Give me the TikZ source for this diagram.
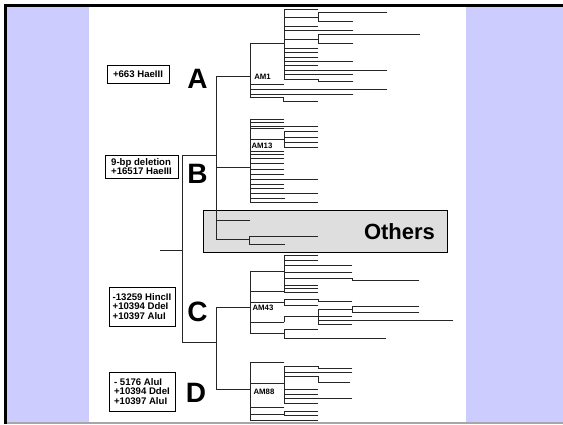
\documentclass[tikz,border=0pt]{standalone}
\usepackage{fontspec}
\setmainfont{Liberation Sans}
\definecolor{lav}{RGB}{204,204,255}
\definecolor{othersfill}{RGB}{222,222,222}
% vertical stem of a clade: x, top, bottom
\newcommand{\stem}[3]{\draw[tree] (#1,#2) -- (#1,#3);}
% plain leaves hanging off a stem at x: list of y/end-x
\newcommand{\twigs}[2]{\foreach \yy/\ee in {#2} \draw[tree] (#1,\yy) -- (\ee,\yy);}
\begin{document}
\begin{tikzpicture}[x=1pt,y=-1pt,
  tree/.style={line width=0.9pt, black!85, line cap=rect},
  sitebox/.style={draw, line width=0.7pt, align=left, inner sep=1.5pt,
    font=\bfseries\fontsize{9.6}{9.7}\selectfont},
  cladeletter/.style={anchor=base, inner sep=0pt, font=\bfseries\fontsize{28}{28}\selectfont},
  amlabel/.style={anchor=base, inner sep=0pt, font=\bfseries\fontsize{7.8}{8}\selectfont}]
\useasboundingbox (0,0) rectangle (563,424);

% page: white panel between lavender margins, frame on top/left
\fill[white] (0,0) rectangle (563,424);
\fill[lav] (7,7) rectangle (89,424);
\fill[lav] (466,7) rectangle (563,424);
\fill[black] (4,4) rectangle (563,7);
\fill[black] (4,4) rectangle (7,424);
\fill[gray!70] (7,422) rectangle (563,424);

% shaded group of remaining lineages
\node[draw, line width=0.8pt, fill=othersfill, minimum width=244pt, minimum height=42pt,
  inner sep=0pt] (others) at (325,231) {};
\node[anchor=base, inner sep=0pt, font=\bfseries\fontsize{22}{22}\selectfont] (otherslbl) at (399.5,239) {Others};

% restriction-site boxes
\node[sitebox, minimum width=62pt, minimum height=18pt] (sA) at (138,74) {+663 HaeIII};
\node[sitebox, minimum width=73pt, minimum height=23pt] (sB) at (141.5,166.5) {9-bp deletion\\+16517 HaeIII};
\node[sitebox, minimum width=66pt, minimum height=39pt] (sC) at (142,306.5) {-13259 HincII\\+10394 DdeI\\+10397 AluI};
\node[sitebox, minimum width=66pt, minimum height=39pt] (sD) at (142,391.5) {- 5176 AluI\\+10394 DdeI\\+10397 AluI};

% haplogroup letters
\node[cladeletter] (lA) at (197.5,88) {A};
\node[cladeletter] (lB) at (197.5,183) {B};
\node[cladeletter] (lC) at (197.5,321) {C};
\node[cladeletter] (lD) at (196,402) {D};

% backbone
\coordinate (root) at (160,250);
\coordinate (rootstem) at (182,250);
\coordinate (upper) at (216,155);
\coordinate (lower) at (216,342);
\draw[tree] (root) -- (rootstem);
\stem{182}{155}{342}
\draw[tree] (182,155) -- (upper);
\draw[tree] (182,342) -- (lower);

% upper group: A, B and the others
\stem{216}{76}{239}
\draw[tree] (216,76) -- (250,76);
\draw[tree] (216,167) -- (250,167);
\draw[tree] (216,220) -- (250,220);
\draw[tree] (216,239) -- (249,239);
\stem{249}{236}{244}
\twigs{249}{236/318, 244/285}

% ---- haplogroup A
\stem{250}{43}{98}
\draw[tree] (250,43) -- (284,43);
\twigs{250}{84/284, 89/387, 94/353}
\draw[tree] (250,97) -| (283,101) -- (318,101);
\node[amlabel] (am1) at (262.5,79) {AM1};
\stem{284}{9}{79}
\twigs{284}{9/318, 26/318, 30/353, 48/318, 52/318, 57/318, 61/353, 65/318, 70/387, 74/353}
\draw[tree] (284,79) -| (318,81) -- (353,81);
\draw[tree] (284,17) -- (318,17);
\stem{318}{12}{21}
\twigs{318}{12/387, 21/353}
\draw[tree] (284,39) -- (318,39);
\stem{318}{34}{43}
\twigs{318}{34/420, 43/353}

% ---- haplogroup B
\stem{250}{119}{202}
\twigs{250}{119/284, 122/284, 126/318, 128/284, 151/284, 154/284, 158/284, 163/284, 169/284, 174/284, 179/318, 184/284, 188/284, 193/318, 198/285, 202/318}
\draw[tree] (250,139) -- (284,139);
\stem{284}{131}{147}
\twigs{284}{131/318, 137/318, 142/318, 147/318}
\node[amlabel] (am13) at (262,148) {AM13};

% lower group: C and D
\stem{216}{307}{389}
\draw[tree] (216,307) -- (250,307);
\draw[tree] (216,389) -- (250,389);

% ---- haplogroup C
\stem{250}{271}{333}
\node[amlabel] (am43) at (263,310) {AM43};
\draw[tree] (250,271) -- (284,271);
\stem{284}{255}{292}
\twigs{284}{255/318, 260/318, 265/352, 272/352, 285/318, 288/318, 292/318}
\draw[tree] (284,278) -| (352,280) -- (419,280);
\draw[tree] (250,291) -- (284,291);
\draw[tree] (250,302) -- (284,302);
\stem{284}{299}{305}
\draw[tree] (284,299) -| (318,301) -- (352,301);
\twigs{284}{305/318}
\draw[tree] (250,322) -- (284,322);
\stem{284}{316}{322}
\draw[tree] (284,316) -- (318,316);
\stem{318}{309}{324}
\twigs{318}{316/352, 320/453, 324/352}
\draw[tree] (318,309) -- (352,309);
\stem{352}{306}{312}
\twigs{352}{306/419, 312/419}
\draw[tree] (250,333) -- (284,333);
\stem{284}{329}{338}
\twigs{284}{329/318, 338/386}

% ---- haplogroup D
\stem{250}{362}{420}
\node[amlabel] (am88) at (264,394) {AM88};
\twigs{250}{362/284, 407/284, 420/318}
\draw[tree] (250,383) -- (284,383);
\stem{284}{366}{403}
\draw[tree] (284,366) -| (318,368) -- (352,368);
\draw[tree] (284,376) -| (318,382) -- (350,382);
\twigs{284}{372/352, 389/318, 394/318, 398/352, 403/318}
\draw[tree] (250,414) -- (284,414);
\stem{284}{411}{415}
\twigs{284}{411/318, 415/318}
\end{tikzpicture}
\end{document}
